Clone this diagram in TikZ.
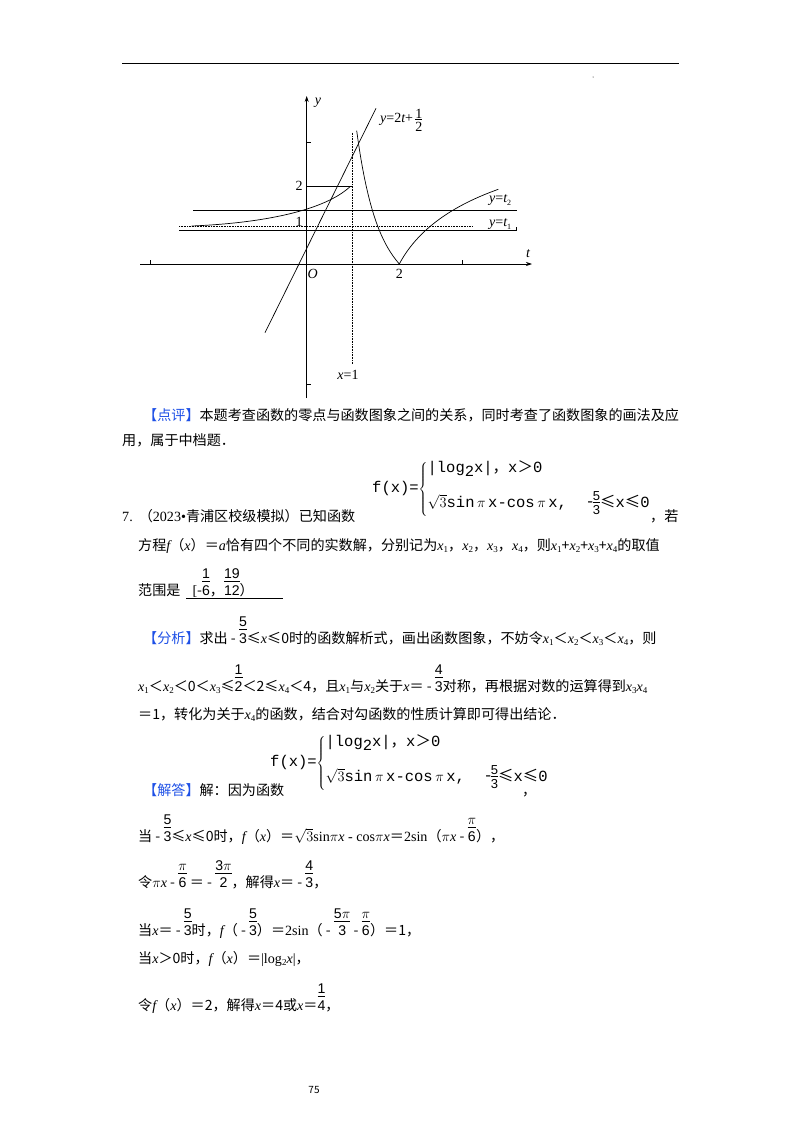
\documentclass[tikz,border=0pt]{standalone}
\usepackage{fontspec}
\setmainfont{Noto Sans CJK SC}
\newfontfamily\tms{Liberation Serif}
\newfontfamily\cour{Liberation Mono}
\newfontfamily\ari{Liberation Sans}
\usetikzlibrary{arrows.meta}
\definecolor{hl}{RGB}{30,80,230}
\newcommand\V[1]{{\tms\itshape #1}}
\newcommand\R[1]{{\tms #1}}
\newcommand\X[1]{\V{x}\raisebox{-0.35ex}{\tms\fontsize{9}{9}\selectfont #1}}
\newcommand\fr[2]{{\ari\renewcommand\arraystretch{0.9}\begin{tabular}[b]{@{}c@{}}#1\\[-2pt]\hline\rule{0pt}{14pt}#2\end{tabular}}}
\newcommand\sfr[2]{{\ari\fontsize{13}{13}\selectfont\renewcommand\arraystretch{0.8}\begin{tabular}[c]{@{}c@{}}#1\\[-2pt]\hline\rule{0pt}{12pt}#2\end{tabular}}}
\newcommand\pw{{\cour\fontsize{15.5}{17}\selectfont f(x)=$\left\{\begin{tabular}{@{}l@{}}|log\raisebox{-0.5ex}{2}x|{\rmfamily ，}x{\rmfamily ＞}0\\[14pt] $\sqrt{3}$sin\,$\pi$\,x-cos\,$\pi$\,x,~~{\raisebox{1pt}{-}}\hspace{-2pt}\sfr{5}{3}{\rmfamily ≤}x{\rmfamily ≤}0\end{tabular}\right.$}}
\tikzset{t/.style={anchor=base west,inner sep=0pt,font=\fontsize{14.1}{16}\selectfont},
g/.style={line width=0.7pt},
lab/.style={inner sep=0pt,font=\tms\fontsize{14}{14}\selectfont}}
\begin{document}
\begin{tikzpicture}[x=1pt,y=-1pt]
\useasboundingbox (0,0) rectangle (800,1132);
\draw[line width=0.6pt] (122,63) -- (679,63);
\fill (593,77) circle (0.5);
% graph
\draw[g,-{Stealth[length=6pt,width=4pt]}] (140,264) -- (532,264);
\draw[g,-{Stealth[length=6pt,width=4pt]}] (306.7,398) -- (306.7,96);
\draw[g] (150.7,264) -- (150.7,260) (462.7,264) -- (462.7,260);
\draw[g] (306.7,142.3) -- (310.7,142.3) (306.7,384) -- (310.7,384);
\draw[g] (265,332.7) -- (376,108.3);
\draw[g] (193,210.7) -- (516.7,210.7);
\draw[g] (179,230.7) -- (516.7,230.7) -- (516.7,227);
\draw[line width=0.6pt,densely dotted] (179,226) -- (473,226);
\draw[g] (306.7,186.7) -- (351.7,186.7);
\draw[line width=0.6pt,densely dotted] (352.7,132.7) -- (352.7,363.3);
\draw[g] (191.7,226) .. controls (265,223) and (325,210) .. (350,186.7);
\draw[g] (356.7,130.7) .. controls (368,215) and (383,245) .. (399.3,264);
\draw[g] (399.3,264) .. controls (420,225) and (460,203) .. (498.3,189.3);
\node[lab] (ly) at (318,103) {\V{y}};
\node[lab,anchor=west] (leq) at (380,122) {\V{y}=2\V{t}+\,\raisebox{-3pt}{\begin{tabular}{@{}c@{}}1\\[-3pt]\hline\rule{0pt}{12pt}2\end{tabular}}};
\node[lab] (lt) at (528,254) {\V{t}};
\node[lab] (lo) at (312.7,274) {\V{O}};
\node[lab] (l2) at (399.3,274) {2};
\node[lab] (l2y) at (299,186) {2};
\node[lab] (l1y) at (299,222) {1};
\node[lab,anchor=west] (lt2) at (489,200) {\V{y}=\V{t}\raisebox{-0.4ex}{\fontsize{8}{8}\selectfont 2}};
\node[lab,anchor=west] (lt1) at (489,224) {\V{y}=\V{t}\raisebox{-0.4ex}{\fontsize{8}{8}\selectfont 1}};
\node[lab] (lx1) at (348,375) {\V{x}=1};
% text
\node[t] (a1) at (122,420) {\hspace{21pt}{\color{hl}【点评】}本题考查函数的零点与函数图象之间的关系，同时考查了函数图象的画法及应};
\node[t] (a2) at (122,445) {用，属于中档题．};
\node[anchor=west,inner sep=0pt] (p1) at (372,489) {\pw};
\node[t] (a3) at (122,521) {\R{7.}\hspace{6pt}（\R{2023•}青浦区校级模拟）已知函数};
\node[t] (a3b) at (650,521) {，若};
\node[t] (a4) at (138,550) {方程\V{f}（\V{x}）＝\V{a}恰有四个不同的实数解，分别记为\X{1}，\X{2}，\X{3}，\X{4}，则\X{1}+\X{2}+\X{3}+\X{4}的取值};
\node[t] (a5) at (138,595) {范围是\hspace{12pt}\R{[}-\fr{1}{6}，\fr{19}{12}）};
\draw[line width=0.6pt] (186,598) -- (283,598);
\node[t] (a6) at (122,643) {\hspace{21pt}{\color{hl}【分析】}求出 - \fr{5}{3}≤\V{x}≤0时的函数解析式，画出函数图象，不妨令\X{1}＜\X{2}＜\X{3}＜\X{4}，则};
\node[t] (a7) at (138,691) {\X{1}＜\X{2}＜0＜\X{3}≤\fr{1}{2}＜2≤\X{4}＜4，且\X{1}与\X{2}关于\V{x}＝ - \fr{4}{3}对称，再根据对数的运算得到\X{3}\X{4}};
\node[t] (a8) at (138,719) {＝1，转化为关于\X{4}的函数，结合对勾函数的性质计算即可得出结论．};
\node[anchor=west,inner sep=0pt] (p2) at (270,763) {\pw};
\node[t] (a9) at (122,795) {\hspace{21pt}{\color{hl}【解答】}解：因为函数};
\node[t] (a9b) at (522,795) {，};
\node[t] (b1) at (138,841) {当 - \fr{5}{3}≤\V{x}≤0时，\V{f}（\V{x}）＝$\sqrt{3}$\R{sin$\pi$\V{x} - cos$\pi$\V{x}}＝\R{2sin}（$\pi$\V{x} - \fr{$\pi$}{6}），};
\node[t] (b2) at (138,887) {令$\pi$\V{x} - \fr{$\pi$}{6} ＝ - \fr{3$\pi$}{2}，解得\V{x}＝ - \fr{4}{3}，};
\node[t] (b3) at (138,935) {当\V{x}＝ - \fr{5}{3}时，\V{f}（ - \fr{5}{3}）＝\R{2sin}（ - \fr{5$\pi$}{3} - \fr{$\pi$}{6}）＝1，};
\node[t] (b4) at (138,963) {当\V{x}＞0时，\V{f}（\V{x}）＝\R{|log\raisebox{-0.4ex}{\fontsize{9}{9}\selectfont 2}\V{x}|}，};
\node[t] (b5) at (138,1010) {令\V{f}（\V{x}）＝2，解得\V{x}＝4或\V{x}＝\fr{1}{4}，};
\node[font=\fontsize{10}{10}\selectfont] (pg) at (314,1090) {75};
\end{tikzpicture}
\end{document}
